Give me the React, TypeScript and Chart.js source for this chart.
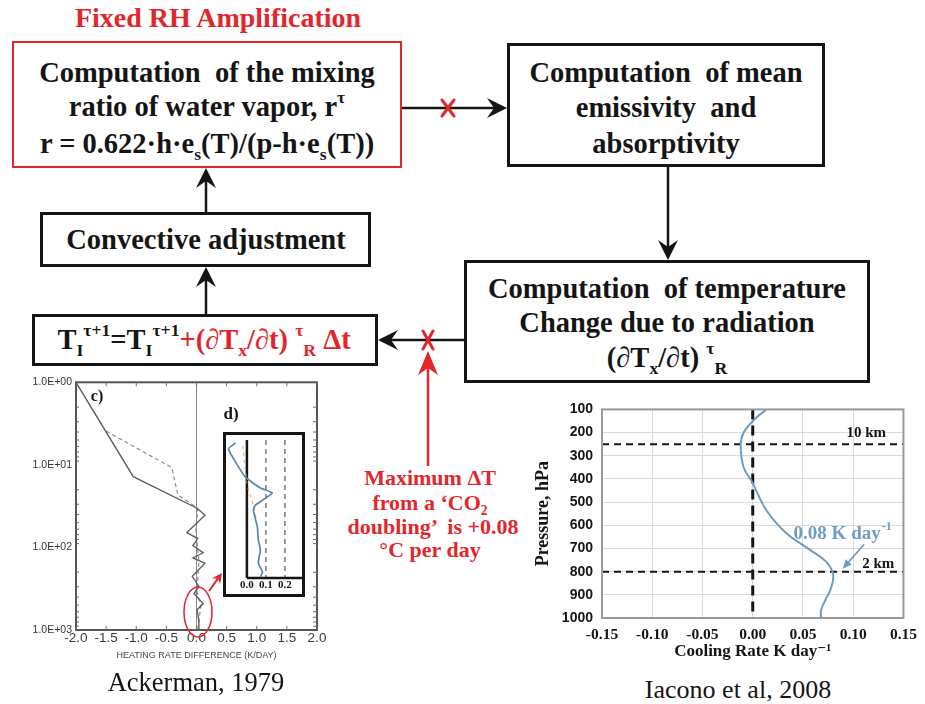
import React, { useEffect, useRef } from "react";
import { Chart, registerables } from "chart.js";

Chart.register(...registerables);

const RED = "#e2272c";
const INK = "#151515";
const BLUE = "#6d9dc5";
const SERIF = '"Liberation Serif", "Times New Roman", "DejaVu Serif", serif';
const SANS = '"Liberation Sans", Arial, "DejaVu Sans", sans-serif';
const BOX_FONT = 28.5;

// Ackerman (1979): heating-rate difference (K/day) against pressure (hPa)
const ackSolidRate = [-2.0, -1.05, 0.01, 0.14, -0.16, 0.02, -0.06, 0.11, -0.06, 0.14, -0.07, 0.04, -0.04, 0.11, 0.01, 0.04, 0.04];
const ackSolidPres = [1, 13.9, 33.5, 40.8, 66, 78, 95, 116, 134, 155, 224, 297, 362, 479, 569, 796, 1000];
const ackDashedRate = [-1.5, -0.41, -0.31, 0.02, -0.01, 0.04, 0.01, 0.07, 0.02];
const ackDashedPres = [3.9, 10.8, 23, 33.5, 63, 146, 340, 526, 1000];
const ackRateTicks = [-2, -1.5, -1, -0.5, 0, 0.5, 1, 1.5, 2];
const ackPresTicks = [1, 10, 100, 1000];

// Inset d): the lowest layers, magnified
const insetBlueRate = [-0.06, -0.097, -0.008, 0.071, 0.134, 0.045, 0.034, 0.055, 0.06, 0.071, 0.06, 0.082, 0.071];
const insetBluePres = [315, 346, 488, 543, 569, 630, 655, 741, 807, 858, 924, 970, 995];
const insetOrangeRate = [-0.02, -0.015, -0.005, 0.0, 0.01, 0.03, 0.05];
const insetOrangePres = [330, 400, 470, 520, 560, 620, 700];
const insetRateTicks = [0, 0.1, 0.2];
const insetGuideRates = [0.1, 0.2];

// Iacono et al. (2008): cooling rate (K/day) against pressure (hPa)
const peakCooling = 0.08;
const iaconoRate = [0.0136, 0.002, -0.009, -0.012, -0.009, -0.001, 0.0136, 0.033, 0.056, 0.073, peakCooling, 0.078, 0.072, 0.068, 0.068];
const iaconoPres = [100, 142, 200, 255, 351, 410, 535, 632, 703, 757, 812, 870, 925, 967, 1000];
const iaconoRateTicks = [-0.15, -0.1, -0.05, 0, 0.05, 0.1, 0.15];
const iaconoPresTicks = [100, 200, 300, 400, 500, 600, 700, 800, 900, 1000];
const iaconoLevels = [250, 800];
const iaconoLevelLabels = ["10 km", "2 km"];

type Pt = { x: number; y: number };
const pts = (xs: number[], ys: number[]): Pt[] => xs.map((x, i) => ({ x, y: ys[i] }));
const fixedTicks = (vals: number[]) => (s: any) => {
  s.ticks = vals.map((value) => ({ value }));
};

// Outline of the plotting area
const framePlugin = {
  id: "frame",
  afterDatasetsDraw(chart: any, _args: any, opts: any) {
    if (!opts || !opts.color) return;
    const { ctx, chartArea: a } = chart;
    ctx.save();
    ctx.strokeStyle = opts.color;
    ctx.lineWidth = opts.width;
    ctx.strokeRect(a.left, a.top, a.right - a.left, a.bottom - a.top);
    ctx.restore();
  },
};

// Short inward tick marks on the Ackerman frame
const ackMinorTicks = {
  id: "ackMinor",
  afterDraw(chart: any) {
    const { ctx, chartArea: a, scales } = chart;
    ctx.save();
    ctx.strokeStyle = "#6a6a6a";
    ctx.lineWidth = 1;
    const seg = (x1: number, y1: number, x2: number, y2: number) => {
      ctx.beginPath();
      ctx.moveTo(x1, y1);
      ctx.lineTo(x2, y2);
      ctx.stroke();
    };
    for (const v of ackRateTicks) {
      const px = scales.x.getPixelForValue(v);
      seg(px, a.bottom, px, a.bottom - 4);
      seg(px, a.top, px, a.top + 4);
    }
    for (const d of [1, 10, 100]) {
      for (let k = 2; k <= 9; k++) {
        const py = scales.y.getPixelForValue(d * k);
        seg(a.right, py, a.right - 4, py);
        seg(a.left, py, a.left + 3, py);
      }
    }
    ctx.restore();
  },
};

// Level labels and the peak-rate callout on the Iacono profile
const iaconoNotes = {
  id: "iaconoNotes",
  afterDatasetsDraw(chart: any) {
    const { ctx, scales } = chart;
    const X = (v: number) => scales.x.getPixelForValue(v);
    const Y = (v: number) => scales.y.getPixelForValue(v);
    ctx.save();
    ctx.fillStyle = INK;
    ctx.font = `bold 15px ${SERIF}`;
    ctx.textAlign = "center";
    ctx.textBaseline = "middle";
    ctx.fillText(iaconoLevelLabels[0], X(0.113), Y(iaconoLevels[0] - 48));
    ctx.fillText(iaconoLevelLabels[1], X(0.125), Y(iaconoLevels[1] - 32));

    const main = `${peakCooling.toFixed(2)} K day`;
    const sup = "-1";
    ctx.font = `bold 19px ${SERIF}`;
    const w1 = ctx.measureText(main).width;
    ctx.font = `bold 12px ${SERIF}`;
    const w2 = ctx.measureText(sup).width;
    const cx = X(0.089);
    const cy = Y(628);
    const x0 = cx - (w1 + w2) / 2;
    ctx.textAlign = "left";
    ctx.textBaseline = "alphabetic";
    ctx.fillStyle = BLUE;
    ctx.font = `bold 19px ${SERIF}`;
    ctx.fillText(main, x0, cy + 7);
    ctx.font = `bold 12px ${SERIF}`;
    ctx.fillText(sup, x0 + w1 + 1, cy - 2);

    const ax = X(0.111), ay = Y(682);
    const tx = X(peakCooling + 0.0096), ty = Y(787);
    const ang = Math.atan2(ty - ay, tx - ax);
    ctx.strokeStyle = BLUE;
    ctx.lineWidth = 1.6;
    ctx.beginPath();
    ctx.moveTo(ax, ay);
    ctx.lineTo(tx - Math.cos(ang) * 6, ty - Math.sin(ang) * 6);
    ctx.stroke();
    ctx.beginPath();
    ctx.moveTo(tx, ty);
    ctx.lineTo(tx - Math.cos(ang) * 9 + Math.sin(ang) * 4, ty - Math.sin(ang) * 9 - Math.cos(ang) * 4);
    ctx.lineTo(tx - Math.cos(ang) * 9 - Math.sin(ang) * 4, ty - Math.sin(ang) * 9 + Math.cos(ang) * 4);
    ctx.closePath();
    ctx.fill();
    ctx.restore();
  },
};

const baseOptions = {
  responsive: false,
  animation: false,
  devicePixelRatio: 1,
  events: [],
};

function ackermanConfig(): any {
  return {
    type: "line",
    data: {
      datasets: [
        { data: pts(ackSolidRate, ackSolidPres), borderColor: "#5e5e5e", borderWidth: 1.4, pointRadius: 0, tension: 0 },
        { data: pts(ackDashedRate, ackDashedPres), borderColor: "#8c8c8c", borderWidth: 1.2, borderDash: [4, 3], pointRadius: 0, tension: 0 },
      ],
    },
    options: {
      ...baseOptions,
      layout: { padding: { top: 8, right: 13, left: 0, bottom: 0 } },
      plugins: { legend: { display: false }, tooltip: { enabled: false }, frame: { color: "#555", width: 2 } },
      scales: {
        x: {
          type: "linear",
          min: -2,
          max: 2,
          afterBuildTicks: fixedTicks(ackRateTicks),
          afterFit: (s: any) => { s.height = 42; },
          ticks: { callback: (v: any) => Number(v).toFixed(1), font: { family: SANS, size: 13.5 }, color: "#3a3a3a", padding: 0, maxRotation: 0, autoSkip: false },
          grid: { drawTicks: false, lineWidth: 1, color: (c: any) => (c.tick && c.tick.value === 0 ? "#8a8a8a" : "rgba(0,0,0,0)") },
          border: { display: false },
          title: { display: true, text: "HEATING RATE DIFFERENCE (K/DAY)", font: { family: SANS, size: 9 }, color: "#444", padding: { top: 0, bottom: 11 } },
        },
        y: {
          type: "logarithmic",
          reverse: true,
          min: 1,
          max: 1000,
          afterBuildTicks: fixedTicks(ackPresTicks),
          afterFit: (s: any) => { s.width = 76; },
          ticks: { callback: (v: any) => "1.0E+0" + Math.round(Math.log10(Number(v))), font: { family: SANS, size: 10.5 }, color: "#333", padding: 4, autoSkip: false },
          grid: { display: false, drawTicks: false },
          border: { display: false },
        },
      },
    },
    plugins: [framePlugin, ackMinorTicks],
  };
}

function insetConfig(): any {
  const guide = (r: number) => ({
    data: [{ x: r, y: 300 }, { x: r, y: 1000 }],
    borderColor: "#7a7a7a",
    borderWidth: 1.5,
    borderDash: [5, 4],
    pointRadius: 0,
  });
  return {
    type: "line",
    data: {
      datasets: [
        { data: pts(insetBlueRate, insetBluePres), borderColor: "#5d86a8", borderWidth: 1.7, pointRadius: 0, tension: 0.15 },
        { data: pts(insetOrangeRate, insetOrangePres), borderColor: "rgba(214,150,90,0.75)", borderWidth: 1.2, borderDash: [3, 4], pointRadius: 0 },
        { data: [{ x: 0, y: 300 }, { x: 0, y: 1000 }], borderColor: INK, borderWidth: 2.5, pointRadius: 0, clip: false },
        { data: [{ x: 0, y: 1000 }, { x: 0.29, y: 1000 }], borderColor: INK, borderWidth: 2.5, pointRadius: 0, clip: false },
        ...insetGuideRates.map(guide),
      ],
    },
    options: {
      ...baseOptions,
      layout: { padding: { top: 5, right: 0, left: 0, bottom: 0 } },
      plugins: { legend: { display: false }, tooltip: { enabled: false } },
      scales: {
        x: {
          type: "linear",
          min: -0.11,
          max: 0.29,
          afterBuildTicks: fixedTicks(insetRateTicks),
          afterFit: (s: any) => { s.height = 16; },
          ticks: { callback: (v: any) => Number(v).toFixed(1), font: { family: SERIF, size: 11, weight: "bold" }, color: INK, padding: 1, maxRotation: 0, autoSkip: false },
          grid: { display: false, drawTicks: false },
          border: { display: false },
        },
        y: { type: "linear", reverse: true, min: 300, max: 1000, display: false },
      },
    },
  };
}

function iaconoConfig(): any {
  const level = (p: number) => ({
    data: [{ x: -0.15, y: p }, { x: 0.15, y: p }],
    borderColor: INK,
    borderWidth: 2,
    borderDash: [7, 5],
    pointRadius: 0,
  });
  const fmt2 = (v: any) => (Math.abs(Number(v)) < 1e-9 ? "0.00" : Number(v).toFixed(2));
  return {
    type: "line",
    data: {
      datasets: [
        { data: pts(iaconoRate, iaconoPres), borderColor: BLUE, borderWidth: 2, pointRadius: 0, tension: 0.4 },
        ...iaconoLevels.map(level),
        { data: [{ x: 0, y: 100 }, { x: 0, y: 1000 }], borderColor: INK, borderWidth: 3, borderDash: [10, 6], pointRadius: 0 },
      ],
    },
    options: {
      ...baseOptions,
      layout: { padding: { top: 11, right: 15, left: 0, bottom: 0 } },
      plugins: { legend: { display: false }, tooltip: { enabled: false }, frame: { color: "#9a9a9a", width: 2 } },
      scales: {
        x: {
          type: "linear",
          min: -0.15,
          max: 0.15,
          afterBuildTicks: fixedTicks(iaconoRateTicks),
          afterFit: (s: any) => { s.height = 54; },
          ticks: { callback: fmt2, font: { family: SERIF, size: 15.5, weight: "bold" }, color: INK, padding: 8, maxRotation: 0, autoSkip: false },
          grid: { color: "#dadada", drawTicks: false },
          border: { display: false },
          title: { display: true, text: "Cooling Rate K day⁻¹", font: { family: SERIF, size: 17, weight: "bold" }, color: INK, padding: { top: 0, bottom: 10 } },
        },
        y: {
          type: "linear",
          reverse: true,
          min: 100,
          max: 1000,
          afterBuildTicks: fixedTicks(iaconoPresTicks),
          afterFit: (s: any) => { s.width = 77; },
          ticks: { callback: (v: any) => String(Math.round(Number(v))), font: { family: SANS, size: 14, weight: "bold" }, color: INK, padding: 9, autoSkip: false },
          grid: { color: "#dadada", drawTicks: false },
          border: { display: false },
          title: { display: true, text: "Pressure, hPa", font: { family: SERIF, size: 18, weight: "bold" }, color: INK, padding: { top: 8 } },
        },
      },
    },
    plugins: [framePlugin, iaconoNotes],
  };
}

function ChartCanvas({ left, top, width, height, make }: { left: number; top: number; width: number; height: number; make: () => any }) {
  const ref = useRef<HTMLCanvasElement>(null);
  useEffect(() => {
    if (!ref.current) return;
    const chart = new Chart(ref.current, make());
    return () => chart.destroy();
  }, []);
  return <canvas ref={ref} width={width} height={height} style={{ position: "absolute", left, top, width, height }} />;
}

const Sup = ({ children }: { children: React.ReactNode }) => (
  <span style={{ fontSize: "0.62em", position: "relative", top: "-0.72em" }}>{children}</span>
);
const Sub = ({ children }: { children: React.ReactNode }) => (
  <span style={{ fontSize: "0.62em", position: "relative", top: "0.38em" }}>{children}</span>
);

function Txt({ x, y, size, color = INK, weight = 700, family = SERIF, children }: any) {
  return (
    <div
      style={{
        position: "absolute",
        left: x,
        top: y,
        transform: "translate(-50%, -50%)",
        whiteSpace: "pre",
        fontFamily: family,
        fontSize: size,
        fontWeight: weight,
        color,
        lineHeight: 1,
      }}
    >
      {children}
    </div>
  );
}

function Box({ x, y, w, h, color = INK, bw = 3 }: any) {
  return (
    <div
      style={{
        position: "absolute",
        left: x,
        top: y,
        width: w,
        height: h,
        boxSizing: "border-box",
        border: `${bw}px solid ${color}`,
        background: "#fff",
      }}
    />
  );
}

function Arrow({ x1, y1, x2, y2, color = INK, w = 2.5, len = 20, half = 10, notch = 7 }: any) {
  const L = Math.hypot(x2 - x1, y2 - y1);
  const dx = (x2 - x1) / L, dy = (y2 - y1) / L;
  const px = -dy, py = dx;
  const bx = x2 - dx * len, by = y2 - dy * len;
  const nx = x2 - dx * (len - notch), ny = y2 - dy * (len - notch);
  return (
    <g>
      <line x1={x1} y1={y1} x2={nx} y2={ny} stroke={color} strokeWidth={w} />
      <polygon points={`${x2},${y2} ${bx + px * half},${by + py * half} ${nx},${ny} ${bx - px * half},${by - py * half}`} fill={color} />
    </g>
  );
}

function Cross({ x, y, hw = 6, hh = 8 }: any) {
  return (
    <g stroke={RED} strokeWidth={3} strokeLinecap="round">
      <line x1={x - hw} y1={y - hh} x2={x + hw} y2={y + hh} />
      <line x1={x + hw} y1={y - hh} x2={x - hw} y2={y + hh} />
    </g>
  );
}

export default function App() {
  return (
    <div style={{ position: "absolute", left: 0, top: 0, width: 925, height: 704, background: "#fff", overflow: "hidden" }}>
      {/* flow-chart boxes */}
      <Box x={12} y={41} w={390} h={127} color={RED} bw={2.5} />
      <Box x={507} y={43} w={318} h={124} />
      <Box x={40} y={212} w={331} h={55} />
      <Box x={32} y={314} w={346} h={52} />
      <Box x={464} y={260} w={406} h={123} />

      <Txt x={218} y={18} size={28} color={RED}>Fixed RH Amplification</Txt>

      <Txt x={207} y={73} size={BOX_FONT}>Computation  of the mixing</Txt>
      <Txt x={207} y={107} size={BOX_FONT}>
        ratio of water vapor, r<Sup>τ</Sup>
      </Txt>
      <Txt x={207} y={144} size={BOX_FONT}>
        r = 0.622·h·e<Sub>s</Sub>(T)/(p-h·e<Sub>s</Sub>(T))
      </Txt>

      <Txt x={666} y={73} size={BOX_FONT}>Computation  of mean</Txt>
      <Txt x={666} y={108} size={BOX_FONT}>emissivity  and</Txt>
      <Txt x={666} y={144} size={BOX_FONT}>absorptivity</Txt>

      <Txt x={206} y={240} size={BOX_FONT}>Convective adjustment</Txt>

      <Txt x={204} y={340} size={BOX_FONT}>
        T<Sub>I</Sub>
        <Sup>τ+1</Sup>=T<Sub>I</Sub>
        <Sup>τ+1</Sup>
        <span style={{ color: RED }}>
          +(∂T<Sub>x</Sub>/∂t) <Sup>τ</Sup>
          <Sub>R</Sub> Δt
        </span>
      </Txt>

      <Txt x={667} y={289} size={BOX_FONT}>Computation  of temperature</Txt>
      <Txt x={667} y={323} size={BOX_FONT}>Change due to radiation</Txt>
      <Txt x={667} y={358} size={BOX_FONT}>
        (∂T<Sub>x</Sub>/∂t) <Sup>τ</Sup>
        <Sub>R</Sub>
      </Txt>

      <Txt x={430} y={478} size={22} color={RED}>Maximum ΔT</Txt>
      <Txt x={430} y={503} size={22} color={RED}>
        from a ‘CO<Sub>2</Sub>
      </Txt>
      <Txt x={433} y={527} size={22} color={RED}>doubling’  is +0.08</Txt>
      <Txt x={430} y={550} size={22} color={RED}>°C per day</Txt>

      {/* Ackerman (1979) profiles with inset */}
      <ChartCanvas left={0} top={372} width={330} height={300} make={ackermanConfig} />
      <Txt x={97} y={396} size={16}>c)</Txt>
      <Txt x={231} y={413} size={17}>d)</Txt>
      <Box x={223} y={432} w={82} h={165} bw={3} />
      <ChartCanvas left={226} top={435} width={76} height={159} make={insetConfig} />
      <Txt x={196} y={682} size={26.5} weight={400}>Ackerman, 1979</Txt>

      {/* Iacono et al. (2008) profile */}
      <ChartCanvas left={525} top={392} width={400} height={280} make={iaconoConfig} />
      <Txt x={738} y={690} size={26} weight={400}>Iacono et al, 2008</Txt>

      <svg width={925} height={704} style={{ position: "absolute", left: 0, top: 0, pointerEvents: "none" }}>
        <Arrow x1={402} y1={108} x2={507} y2={108} />
        <Arrow x1={668} y1={167} x2={668} y2={260} />
        <Arrow x1={464} y1={340} x2={378} y2={340} />
        <Arrow x1={206} y1={314} x2={206} y2={267} />
        <Arrow x1={206} y1={212} x2={206} y2={168} />
        <Arrow x1={428} y1={466} x2={428} y2={351} color={RED} len={24} half={10} notch={7} />
        <Cross x={448} y={108} hw={6} hh={8} />
        <Cross x={428} y={340} hw={5} hh={9} />
        <ellipse cx={198} cy={612} rx={14} ry={25} fill="none" stroke={RED} strokeWidth={1.5} />
        <Arrow x1={209} y1={591} x2={222} y2={573} color={RED} w={2} len={10} half={5} notch={3} />
      </svg>
    </div>
  );
}
